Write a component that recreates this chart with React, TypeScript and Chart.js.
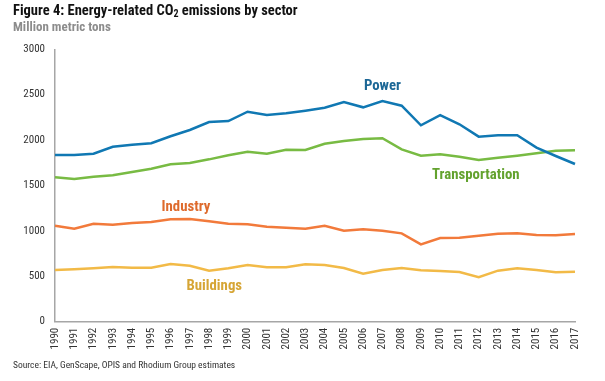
import React, { useEffect, useRef } from "react";
import { Chart, registerables } from "chart.js";

Chart.register(...registerables);

const years = [
  "1990", "1991", "1992", "1993", "1994", "1995", "1996", "1997", "1998", "1999",
  "2000", "2001", "2002", "2003", "2004", "2005", "2006", "2007", "2008", "2009",
  "2010", "2011", "2012", "2013", "2014", "2015", "2016", "2017",
];

const power = [
  1836, 1836, 1850, 1927, 1950, 1965, 2042, 2111, 2199, 2210,
  2313, 2276, 2295, 2324, 2357, 2420, 2361, 2430, 2379, 2163,
  2276, 2174, 2038, 2053, 2053, 1917, 1825, 1737,
];

const transportation = [
  1590, 1572, 1597, 1612, 1649, 1685, 1733, 1748, 1788, 1833,
  1872, 1850, 1894, 1891, 1960, 1990, 2012, 2020, 1898, 1828,
  1843, 1817, 1781, 1806, 1828, 1854, 1883, 1888,
];

const industry = [
  1057, 1024, 1079, 1068, 1087, 1098, 1128, 1131, 1106, 1079,
  1072, 1046, 1035, 1024, 1057, 1002, 1017, 1002, 973, 852,
  922, 925, 947, 969, 973, 955, 951, 966,
];

const buildings = [
  569, 577, 588, 602, 595, 595, 635, 617, 562, 588,
  624, 599, 599, 632, 624, 591, 529, 569, 591, 566,
  558, 547, 489, 562, 588, 569, 544, 551,
];

const seriesNames = ["Power", "Transportation", "Industry", "Buildings"];
const yTicks = [0, 500, 1000, 1500, 2000, 2500, 3000];

const NARROW = '"Liberation Sans Narrow", "Roboto Condensed", "DejaVu Sans Condensed", "Liberation Sans", sans-serif';

// annotation placement (category index, value) for series name labels
const labelAnchors = [
  { x: 17, y: 2596 },
  { x: 21.85, y: 1616 },
  { x: 6.8, y: 1260 },
  { x: 8.27, y: 390 },
];

const lineColors = ["#1078b3", "#78bb43", "#f27a3b", "#f2ba47"];
const labelColors = ["#1c6796", "#63a22e", "#de6a2c", "#d6a535"];

const seriesLabelPlugin = {
  id: "seriesLabels",
  afterDatasetsDraw(chart: any) {
    const { ctx, scales } = chart;
    ctx.save();
    ctx.font = `bold 14.8px ${NARROW}`;
    ctx.textAlign = "center";
    ctx.textBaseline = "middle";
    seriesNames.forEach((name, i) => {
      const a = labelAnchors[i];
      const px = scales.x.getPixelForValue(a.x);
      const py = scales.y.getPixelForValue(a.y);
      ctx.fillStyle = labelColors[i];
      ctx.fillText(name, px, py);
    });
    ctx.restore();
  },
};

function EmissionsChart() {
  const canvasRef = useRef<HTMLCanvasElement | null>(null);

  useEffect(() => {
    if (!canvasRef.current) return;
    const datasets = [power, transportation, industry, buildings].map((d, i) => ({
      label: seriesNames[i],
      data: d,
      borderColor: lineColors[i],
      backgroundColor: lineColors[i],
      borderWidth: 2.5,
      pointRadius: 0,
      tension: 0,
      fill: false,
    }));
    const chart = new Chart(canvasRef.current, {
      type: "line",
      data: { labels: years, datasets },
      options: {
        responsive: false,
        animation: false,
        devicePixelRatio: 1,
        layout: { padding: { top: 49.3, left: 0, right: 30, bottom: 24.3 } },
        plugins: {
          legend: { display: false },
          tooltip: { enabled: false },
          title: { display: false },
        },
        scales: {
          x: {
            type: "category",
            offset: false,
            grid: { display: false, drawTicks: false },
            border: { display: true, color: "#a6a6a6", width: 1.5 },
            ticks: {
              autoSkip: false,
              minRotation: 90,
              maxRotation: 90,
              padding: 6,
              color: "#333333",
              font: { family: NARROW, size: 11 },
            },
            afterFit: (s: any) => {
              s.height = 35;
            },
          },
          y: {
            min: 0,
            max: 3000,
            afterBuildTicks: (s: any) => {
              s.ticks = yTicks.map((v) => ({ value: v }));
            },
            grid: { display: false, drawTicks: false },
            border: { display: true, color: "#a6a6a6", width: 1.5 },
            ticks: {
              padding: 10,
              color: "#333333",
              font: { family: NARROW, size: 11 },
              callback: (v: any) => String(v),
            },
            afterFit: (s: any) => {
              s.width = 55;
            },
          },
        },
      },
      plugins: [seriesLabelPlugin],
    });
    return () => chart.destroy();
  }, []);

  return <canvas ref={canvasRef} width={605} height={381} style={{ display: "block" }} />;
}

export default function App() {
  return (
    <div
      style={{
        position: "absolute",
        left: 0,
        top: 0,
        width: 605,
        height: 381,
        background: "#ffffff",
        overflow: "hidden",
      }}
    >
      <EmissionsChart />
      <div
        style={{
          position: "absolute",
          left: 13,
          top: 3,
          fontFamily: NARROW,
          fontWeight: "bold",
          fontSize: 14.5,
          lineHeight: "16px",
          color: "#111111",
          whiteSpace: "nowrap",
        }}
      >
        Figure 4: Energy-related CO<sub style={{ fontSize: 10, verticalAlign: "-2px", lineHeight: 0 }}>2</sub> emissions by sector
      </div>
      <div
        style={{
          position: "absolute",
          left: 13,
          top: 19,
          fontFamily: NARROW,
          fontWeight: "bold",
          fontSize: 13,
          lineHeight: "15px",
          color: "#8c8c8c",
          whiteSpace: "nowrap",
        }}
      >
        Million metric tons
      </div>
      <div
        style={{
          position: "absolute",
          left: 13,
          top: 359,
          fontFamily: NARROW,
          fontSize: 9.5,
          lineHeight: "12px",
          color: "#333333",
          whiteSpace: "nowrap",
        }}
      >
        Source: EIA, GenScape, OPIS and Rhodium Group estimates
      </div>
    </div>
  );
}
